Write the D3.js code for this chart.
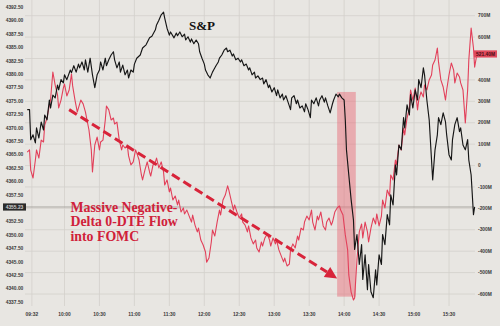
<!DOCTYPE html>
<html><head><meta charset="utf-8">
<script src="https://cdn.jsdelivr.net/npm/d3@7"></script>
<style>html,body{margin:0;padding:0;background:#e8e6e2;}svg{display:block;}</style>
</head><body>
<svg id="c" width="500" height="326"></svg>
<script>
// ---- data (minute of day) ----
const spTimes = [568,570,571,573,575,576,578,580,582,583,585,587,588,590,592,594,595,597,599,600,602,605,606,608,610,612,613,615,617,618,620,622,624,626,628,630,631,633,635,636,638,640,642,643,645,647,648,650,652,654,655,657,659,660,662,665,667,670,673,675,678,679,681,683,685,686,688,690,691,694,696,697,699,701,703,704,706,708,709,711,713,715,716,718,720,721,723,725,727,728,730,732,733,735,737,739,740,742,744,745,747,749,751,752,754,756,758,759,761,763,764,766,768,770,771,773,775,776,778,780,782,783,785,787,788,790,792,794,795,797,799,800,802,804,806,807,809,811,812,814,816,818,819,821,823,824,826,828,830,831,833,835,836,838,840,841,842,844,846,848,849,851,853,855,856,858,860,861,863,865,867,868,870,872,873,875,877,879,880,882,884,885,887,889,891,892,894,896,897,899,901,903,904,906,908,909,911,913,915,916,918,920,921,923,925,927,928,930,932,933,935,937,939,940,942,944,946,947,949,951,952];
const spValues = [4373.4,4373.4,4367.8,4368.7,4367.2,4370.0,4368.1,4371.1,4369.6,4372.4,
4371.5,4375.2,4373.7,4376.1,4375.6,4378.0,4377.1,4379.0,4378.4,4379.9,
4379.0,4380.8,4380.3,4381.6,4380.4,4381.9,4381.2,4382.3,4380.8,4382.7,
4380.4,4383.0,4379.9,4377.5,4379.9,4380.8,4382.3,4380.8,4383.0,4381.6,
4382.7,4383.6,4384.2,4382.7,4381.2,4382.3,4380.4,4381.7,4379.9,4380.8,
4379.3,4380.8,4380.4,4381.9,4383.0,4383.6,4384.9,4385.5,4386.8,4387.1,
4388.3,4389.2,4390.1,4391.1,4391.6,4390.5,4388.6,4387.3,4387.9,4386.8,
4387.7,4387.2,4387.9,4387.0,4387.5,4386.4,4387.0,4386.0,4386.6,4385.7,
4386.4,4385.7,4384.2,4383.0,4381.9,4380.8,4379.9,4379.3,4380.4,4380.8,
4381.6,4382.3,4383.0,4383.6,4384.5,4384.9,4384.2,4384.5,4383.4,4383.8,
4382.7,4383.0,4382.3,4382.7,4381.6,4381.9,4380.8,4381.2,4379.9,4380.4,
4379.3,4379.7,4379.0,4379.3,4378.2,4379.0,4377.5,4378.0,4376.7,4377.5,
4376.0,4377.1,4375.6,4376.3,4375.2,4376.0,4374.7,4373.4,4375.6,4376.0,
4374.5,4375.2,4373.7,4374.1,4373.0,4374.5,4373.4,4371.9,4375.2,4374.5,
4375.6,4374.1,4375.2,4376.0,4374.8,4375.6,4374.1,4372.8,4374.5,4375.2,
4376.3,4375.8,4376.3,4375.6,4375.2,4371.5,4365.9,4361.2,4356.6,4352.8,
4347.3,4350.1,4344.5,4348.2,4341.7,4346.3,4339.8,4344.5,4339.4,4338.3,
4343.5,4340.7,4346.3,4344.5,4350.1,4348.2,4353.8,4351.9,4357.5,4355.6,
4363.1,4361.2,4366.8,4365.9,4371.9,4370.0,4374.3,4372.4,4376.2,4373.7,
4377.1,4375.2,4379.0,4377.5,4381.2,4379.9,4375.2,4371.5,4364.0,4360.3,
4365.9,4368.7,4371.9,4370.6,4372.8,4371.1,4368.7,4365.0,4364.0,4367.8,
4370.6,4371.9,4369.3,4370.0,4366.8,4365.9,4367.8,4364.0,4361.2,4353.8,
4355.23];
const flowTimes = [568,570,571,573,575,576,578,580,582,583,585,587,588,590,592,594,595,597,599,600,602,604,606,607,609,611,612,614,616,618,619,621,623,624,626,628,630,631,633,635,636,638,640,642,643,645,647,649,650,652,654,655,657,659,661,662,664,666,667,669,671,673,674,676,678,679,681,683,685,686,688,690,691,693,695,697,698,700,702,703,705,707,709,710,712,714,715,717,719,721,722,724,726,727,729,731,733,734,736,738,740,741,743,745,746,748,750,752,753,755,757,758,760,762,764,765,767,769,770,772,774,776,777,779,781,782,784,786,788,789,791,793,794,796,798,800,801,803,805,806,808,810,812,813,815,817,818,820,822,824,825,827,829,830,832,834,836,837,839,841,843,844,846,848,849,851,853,855,856,858,860,861,863,865,867,868,870,872,873,875,877,879,880,882,884,885,887,889,891,892,894,896,897,899,901,903,904,906,908,909,911,913,915,916,918,920,921,923,925,927,928,930,932,934,935,937,939,940,942,944,946,947,949,951,952,954];
const flowValues = [63,73,-21,-58,26,73,35,119,110,189,
222,283,306,437,376,330,269,306,362,381,
325,353,428,372,306,250,269,306,288,250,
222,166,73,-30,96,133,73,110,119,213,
278,260,213,222,194,203,119,73,96,82,
91,45,3,17,73,59,26,-44,-67,-21,
17,-30,-49,3,17,35,-11,17,-30,-91,
-67,-123,-105,-161,-142,-184,-161,-217,-198,-226,
-208,-236,-264,-231,-278,-310,-292,-348,-371,-404,
-451,-432,-357,-301,-329,-264,-208,-231,-161,-138,
-95,-114,-161,-208,-184,-217,-245,-226,-264,-278,
-310,-282,-338,-366,-348,-385,-404,-357,-376,-338,
-320,-348,-376,-338,-366,-348,-394,-422,-450,-432,
-469,-460,-394,-366,-385,-329,-348,-292,-301,-264,
-236,-254,-208,-264,-301,-236,-254,-217,-282,-301,
-264,-245,-278,-264,-217,-198,-189,-208,-231,-324,
-394,-511,-591,-628,-619,-441,-310,-273,-338,-264,
-310,-357,-292,-245,-273,-226,-282,-236,-161,-198,
-114,-142,-44,-67,26,3,96,73,175,143,
222,269,353,306,362,260,306,344,320,376,
353,400,423,470,493,549,484,400,367,306,
353,423,479,446,386,432,414,386,353,199,
353,493,642,549,460,521.4];
const xTickLabels = ["09:32","10:00","10:30","11:00","11:30","12:00","12:30","13:00","13:30","14:00","14:30","15:00","15:30"];
const leftTicks = d3.range(4337.5, 4392.51, 2.5);
const rightTicks = d3.range(-600, 701, 100);
const lastPrice = 4355.23;
const lastFlow = 521.4;
const seriesLabels = ["S&P", "Massive Negative-", "Delta 0-DTE Flow", "into FOMC"];
// annotation anchors in data units
const fomcWindow = {t0: 834, t1: 850, lo: 4338.5, hi: 4376.7};
const arrowFrom = {t: 604, v: 4373.4}, arrowTo = {t: 834, v: 4341.9};

// ---- scales ----
const toMin = s => { const [h, m] = s.split(":").map(Number); return h * 60 + m; };
const x = d3.scaleLinear().domain([600, 930]).range([64.5, 449]);
const yL = d3.scaleLinear().domain([4337.5, 4392.5]).range([302, 7.3]);
const yR = d3.scaleLinear().domain([-600, 700]).range([294, 15.7]);

const svg = d3.select("#c");
svg.append("rect").attr("width", 500).attr("height", 326).attr("fill", "#e8e6e2");

const grid = svg.append("g").attr("stroke", "#d3d0cb").attr("stroke-width", 0.8);
grid.selectAll("line.h").data(rightTicks).join("line")
  .attr("x1", 25).attr("x2", 475)
  .attr("y1", d => yR(d)).attr("y2", d => yR(d));
grid.selectAll("line.v").data(xTickLabels).join("line")
  .attr("x1", d => x(toMin(d))).attr("x2", d => x(toMin(d)))
  .attr("y1", 0).attr("y2", 306);

// last price line
svg.append("line").attr("x1", 25).attr("x2", 475)
  .attr("y1", yL(lastPrice)).attr("y2", yL(lastPrice))
  .attr("stroke", "#aaa7a2").attr("stroke-width", 1);

// FOMC shaded window
svg.append("rect")
  .attr("x", x(fomcWindow.t0)).attr("width", x(fomcWindow.t1) - x(fomcWindow.t0))
  .attr("y", yL(fomcWindow.hi)).attr("height", yL(fomcWindow.lo) - yL(fomcWindow.hi))
  .attr("fill", "#e8707c").attr("opacity", 0.5);

// lines
const flowLine = d3.line().x(d => x(d[0])).y(d => yR(d[1]));
const spLine = d3.line().x(d => x(d[0])).y(d => yL(d[1]));
svg.append("path").datum(d3.zip(flowTimes, flowValues))
  .attr("d", flowLine).attr("fill", "none").attr("stroke", "#e2405a")
  .attr("stroke-width", 1.1).attr("stroke-linejoin", "round");
svg.append("path").datum(d3.zip(spTimes, spValues))
  .attr("d", spLine).attr("fill", "none").attr("stroke", "#161616")
  .attr("stroke-width", 1.15).attr("stroke-linejoin", "round");

// arrow
const ax0 = x(arrowFrom.t), ay0 = yL(arrowFrom.v), ax1 = x(arrowTo.t), ay1 = yL(arrowTo.v);
const ang = Math.atan2(ay1 - ay0, ax1 - ax0);
const headL = 12, headW = 6;
const bx = ax1 - headL * Math.cos(ang), by = ay1 - headL * Math.sin(ang);
svg.append("line").attr("x1", ax0).attr("y1", ay0).attr("x2", bx).attr("y2", by)
  .attr("stroke", "#d8243a").attr("stroke-width", 3).attr("stroke-dasharray", "9,4.5");
svg.append("path")
  .attr("d", `M${ax1},${ay1}L${bx - headW * Math.sin(ang)},${by + headW * Math.cos(ang)}L${bx + headW * Math.sin(ang)},${by - headW * Math.cos(ang)}Z`)
  .attr("fill", "#d8243a");

// texts
svg.append("text").attr("x", 189).attr("y", 30).text(seriesLabels[0])
  .attr("font-family", "'Liberation Serif','DejaVu Serif',serif").attr("font-weight", "bold")
  .attr("font-size", 13).attr("fill", "#111");
const ann = svg.append("text").attr("font-family", "'Liberation Serif','DejaVu Serif',serif")
  .attr("font-weight", "bold").attr("font-size", 13.8).attr("fill", "#d0213a");
seriesLabels.slice(1).forEach((t, i) => ann.append("tspan").attr("x", 70.5).attr("y", 211.5 + i * 14.6).text(t));

// axes labels
const lab = { "font-family": "'Liberation Sans',Arial,sans-serif", "font-size": 4.9, "font-weight": "bold" };
function styleText(s) { Object.entries(lab).forEach(([k, v]) => s.attr(k, v)); return s; }
const priceY = yL(lastPrice);
styleText(svg.append("g").selectAll("text").data(leftTicks.filter(d => Math.abs(yL(d) - priceY) > 6)).join("text")
  .attr("x", 14.5).attr("y", d => yL(d)).attr("dy", "0.35em").attr("text-anchor", "middle")
  .attr("fill", "#3a3a3a").text(d => d3.format(".2f")(d)));
const flowY = yR(lastFlow);
styleText(svg.append("g").selectAll("text").data(rightTicks.filter(d => Math.abs(yR(d) - flowY) > 6)).join("text")
  .attr("x", 478).attr("y", d => yR(d)).attr("dy", "0.35em")
  .attr("fill", "#3a3a3a").text(d => d === 0 ? "0" : d + "M"));
styleText(svg.append("g").selectAll("text").data(xTickLabels).join("text")
  .attr("x", d => x(toMin(d))).attr("y", 314).attr("dy", "0.35em").attr("text-anchor", "middle")
  .attr("fill", "#3a3a3a").text(d => d));

// last value boxes
svg.append("rect").attr("x", 3).attr("y", priceY - 3.6).attr("width", 23).attr("height", 7.2).attr("fill", "#2b2b2b");
styleText(svg.append("text").attr("x", 14.5).attr("y", priceY).attr("dy", "0.35em").attr("text-anchor", "middle")
  .attr("fill", "#cfcfcf").text(lastPrice.toFixed(2)));
svg.append("rect").attr("x", 474).attr("y", flowY - 3.6).attr("width", 23).attr("height", 7.2).attr("fill", "#e04a5c");
styleText(svg.append("text").attr("x", 485.5).attr("y", flowY).attr("dy", "0.35em").attr("text-anchor", "middle")
  .attr("fill", "#4a0d14").text(lastFlow.toFixed(2) + "M"));
</script>
</body></html>
